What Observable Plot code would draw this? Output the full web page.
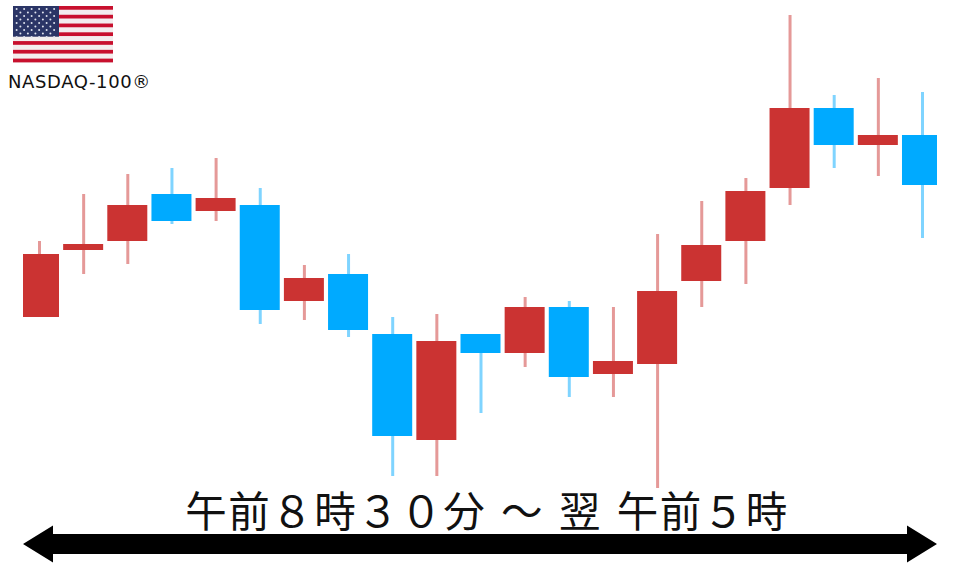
<!DOCTYPE html>
<html lang="ja"><head><meta charset="utf-8">
<script src="https://cdn.jsdelivr.net/npm/d3@7"></script>
<script src="https://cdn.jsdelivr.net/npm/@observablehq/plot@0.6"></script>
<style>
html,body{margin:0;padding:0;background:#fff;width:960px;height:567px;overflow:hidden}
#wrap{position:relative;width:960px;height:567px}
#chart svg{filter:blur(0.45px);display:block}
.ov{position:absolute;color:#111;white-space:pre;line-height:1}
</style></head><body>
<div id="wrap">
<div id="chart"></div>
<svg class="ov" style="left:0;top:0" width="960" height="567" viewBox="0 0 960 567" id="deco"></svg>
<div class="ov" id="lab" style="left:8px;top:71px;font:18px 'DejaVu Sans',sans-serif;letter-spacing:0.6px">NASDAQ-100®</div>
<div class="ov" id="span" style="left:0;width:974px;text-align:center;top:479px;font:41.5px 'Noto Sans CJK JP',sans-serif;letter-spacing:1.5px;word-spacing:4px;color:#111">午前８時３０分 ～ 翌 午前５時</div>
</div>
<script>
const sessions = d3.range(1, 22);
const opens  = [183,250,259,306,289,295,199,226,166,60,166,147,193,126,136,219,259,312,392,355,365];
const closes = [246,256,295,279,302,190,222,170,64,159,147,193,123,139,209,255,309,392,355,365,315];
const highs  = [259,306,326,332,342,312,235,246,183,186,166,203,199,193,266,299,322,485,405,422,408];
const lows   = [183,226,236,276,279,176,180,163,24,24,87,133,103,103,12,193,216,295,332,324,262];
const UP = "#cb3332", DOWN = "#00aaff";
const rows = sessions.map((s,i)=>({s,open:opens[i],close:closes[i],high:highs[i],low:lows[i]}));
const col = d => d.close >= d.open ? UP : DOWN;
const halfBody = 0.453;
const plot = Plot.plot({
  width:960, height:567, marginLeft:23, marginRight:23, marginTop:0, marginBottom:0,
  x:{domain:[0.6376,21.34], axis:null},
  y:{domain:[-67,500], range:[567,0], axis:null},
  style:{background:"transparent"},
  marks:[
    Plot.ruleX(rows,{x:"s",y1:"low",y2:"high",stroke:col,strokeWidth:3,strokeOpacity:0.5,clip:true}),
    Plot.rect(rows,{x1:d=>d.s-halfBody,x2:d=>d.s+halfBody,y1:"open",y2:"close",fill:col,clip:true})
  ]
});
document.getElementById("chart").append(plot);

// decoration: flag and double arrow
const deco = d3.select("#deco");
const flag = deco.append("g").style("filter","blur(0.4px)");
const fx=13, fy=6, fw=100, fh=57, sh=fh/13;
flag.append("rect").attr("x",fx).attr("y",fy).attr("width",fw).attr("height",fh).attr("fill","#f3eeee");
for(let i=0;i<13;i+=2) flag.append("rect").attr("x",fx).attr("y",fy+i*sh).attr("width",fw).attr("height",sh*0.85).attr("fill","#c8102e");
flag.append("rect").attr("x",fx).attr("y",fy).attr("width",46).attr("height",sh*7).attr("fill","#2b3566");
for(let r=0;r<9;r++){
  const n = r%2?5:6;
  for(let c=0;c<n;c++){
    flag.append("circle").attr("cx",fx+(r%2?7.4:3.6)+c*7.5).attr("cy",fy+3+r*3.5).attr("r",1).attr("fill","#dfe3ee");
  }
}
deco.append("path").attr("d","M23 544 L53 525.5 L53 534 L907 534 L907 525.5 L937 544 L907 562.5 L907 554 L53 554 L53 562.5 Z").attr("fill","#000");
</script>
</body></html>
